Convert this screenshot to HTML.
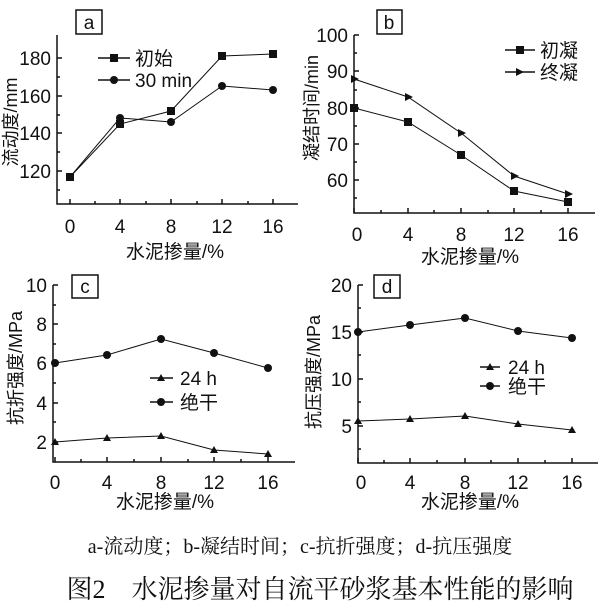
<!DOCTYPE html><html><head><meta charset="utf-8"><style>body{margin:0;background:#fff}svg{display:block}
text{font-family:"Liberation Sans","Noto Sans CJK SC",sans-serif;fill:#111}
.s{font-family:"Liberation Serif","Noto Serif CJK SC",serif}</style></head><body>
<svg width="614" height="609" viewBox="0 0 614 609" xmlns="http://www.w3.org/2000/svg" stroke="#111" fill="none">
<g stroke-width="1.5">
<path d="M57 35V204H298"/>
<path d="M70 204v-5M95 204v-3M120 204v-5M146 204v-3M171 204v-5M197 204v-3M222 204v-5M248 204v-3M273 204v-5M57 58h5M57 77h3M57 96h5M57 115h3M57 133h5M57 152h3M57 171h5M57 190h3"/>
<rect x="76" y="10" width="26" height="24"/>
<path d="M354 35V213H595"/>
<path d="M354 213v-5M381 213v-3M408 213v-5M434 213v-3M461 213v-5M488 213v-3M514 213v-5M541 213v-3M568 213v-5M354 35h5M354 53h3M354 71h5M354 90h3M354 108h5M354 126h3M354 144h5M354 162h3M354 180h5M354 198h3"/>
<rect x="377" y="10" width="25" height="24"/>
<path d="M53 285V462H295"/>
<path d="M55 462v-5M81 462v-3M107 462v-5M134 462v-3M161 462v-5M188 462v-3M214 462v-5M241 462v-3M268 462v-5M53 285h5M53 305h3M53 324h5M53 344h3M53 363h5M53 383h3M53 403h5M53 422h3M53 442h5"/>
<rect x="72" y="275" width="26" height="23"/>
<path d="M358 285V463H598"/>
<path d="M358 463v-5M384 463v-3M410 463v-5M437 463v-3M465 463v-5M491 463v-3M518 463v-5M545 463v-3M572 463v-5M358 285h5M358 308h3M358 332h5M358 355h3M358 379h5M358 402h3M358 426h5M358 449h3"/>
<rect x="374" y="275" width="26" height="23"/>
</g>
<g stroke-width="1">
<polyline points="70,177 120,124 171,111 222,56 273,54"/>
<polyline points="70,177 120,118 171,122 222,86 273,90"/>
<polyline points="354,108 408,122 461,155 514,191 568,202"/>
<polyline points="354,79 408,97 461,133 514,176 568,194"/>
<polyline points="55,363 107,355 161,339 214,353 268,368"/>
<polyline points="55,442 107,438 161,436 214,450 268,454"/>
<polyline points="358,332 410,325 465,318 518,331 572,338"/>
<polyline points="358,421 410,419 465,416 518,424 572,430"/>
<path d="M98 58h32M98 80h32M505 50h30M505 72h30M150 378h23M150 402h23M480 367h20M480 386h20" stroke-width="1.5"/>
</g>
<g fill="#111" stroke="none">
<rect x="66" y="173" width="8" height="8"/><rect x="116" y="120" width="8" height="8"/><rect x="167" y="107" width="8" height="8"/><rect x="218" y="52" width="8" height="8"/><rect x="269" y="50" width="8" height="8"/><rect x="110" y="54" width="8" height="8"/>
<rect x="350" y="104" width="8" height="8"/><rect x="404" y="118" width="8" height="8"/><rect x="457" y="151" width="8" height="8"/><rect x="510" y="187" width="8" height="8"/><rect x="564" y="198" width="8" height="8"/><rect x="516" y="46" width="8" height="8"/>
<circle cx="120" cy="118" r="4"/><circle cx="171" cy="122" r="4"/><circle cx="222" cy="86" r="4"/><circle cx="273" cy="90" r="4"/><circle cx="114" cy="80" r="4"/>
<circle cx="55" cy="363" r="4"/><circle cx="107" cy="355" r="4"/><circle cx="161" cy="339" r="4"/><circle cx="214" cy="353" r="4"/><circle cx="268" cy="368" r="4"/><circle cx="161" cy="402" r="4"/>
<circle cx="358" cy="332" r="4"/><circle cx="410" cy="325" r="4"/><circle cx="465" cy="318" r="4"/><circle cx="518" cy="331" r="4"/><circle cx="572" cy="338" r="4"/><circle cx="490" cy="386" r="4"/>
<path d="M351 75l8 4-8 4zM405 93l8 4-8 4zM458 129l8 4-8 4zM511 172l8 4-8 4zM565 190l8 4-8 4zM516 68l8 4-8 4z"/>
<path d="M55 438l4 7h-8zM107 434l4 7h-8zM161 432l4 7h-8zM214 446l4 7h-8zM268 450l4 7h-8zM161 374l4 7h-8z"/>
<path d="M358 417l4 7h-8zM410 415l4 7h-8zM465 412l4 7h-8zM518 420l4 7h-8zM572 426l4 7h-8zM490 363l4 7h-8z"/>
</g>
<g stroke="none" font-size="19">
<text x="89" y="29" text-anchor="middle">a</text><text x="389" y="29" text-anchor="middle">b</text><text x="85" y="293" text-anchor="middle">c</text><text x="387" y="293" text-anchor="middle">d</text>
<g text-anchor="end"><text x="51" y="65">180</text><text x="51" y="103">160</text><text x="51" y="140">140</text><text x="51" y="178">120</text>
<text x="348" y="42">100</text><text x="348" y="78">90</text><text x="348" y="115">80</text><text x="348" y="151">70</text><text x="348" y="187">60</text>
<text x="47" y="292">10</text><text x="47" y="331">8</text><text x="47" y="370">6</text><text x="47" y="410">4</text><text x="47" y="449">2</text>
<text x="352" y="292">20</text><text x="352" y="339">15</text><text x="352" y="386">10</text><text x="352" y="433">5</text></g>
<g text-anchor="middle"><text x="70" y="233">0</text><text x="120" y="233">4</text><text x="171" y="233">8</text><text x="222" y="233">12</text><text x="273" y="233">16</text>
<text x="357" y="241">0</text><text x="408" y="241">4</text><text x="461" y="241">8</text><text x="514" y="241">12</text><text x="568" y="241">16</text>
<text x="55" y="489">0</text><text x="107" y="489">4</text><text x="161" y="489">8</text><text x="214" y="489">12</text><text x="268" y="489">16</text>
<text x="361" y="489">0</text><text x="410" y="489">4</text><text x="465" y="489">8</text><text x="518" y="489">12</text><text x="572" y="489">16</text>
<text x="175" y="258">水泥掺量/%</text><text x="470" y="263">水泥掺量/%</text><text x="165" y="508">水泥掺量/%</text><text x="470" y="508">水泥掺量/%</text></g>
<text x="135" y="65">初始</text><text x="135" y="87">30 min</text>
<text x="540" y="57">初凝</text><text x="540" y="79">终凝</text>
<text x="180" y="385">24 h</text><text x="180" y="409">绝干</text>
<text x="508" y="374">24 h</text><text x="508" y="393">绝干</text>
<text transform="translate(17,122) rotate(-90)" text-anchor="middle" font-size="18">流动度/mm</text>
<text transform="translate(318,108) rotate(-90)" text-anchor="middle" font-size="18">凝结时间/min</text>
<text transform="translate(22,368) rotate(-90)" text-anchor="middle" font-size="18">抗折强度/MPa</text>
<text transform="translate(320,372) rotate(-90)" text-anchor="middle" font-size="18">抗压强度/MPa</text>
<text class="s" x="300" y="553" text-anchor="middle" font-size="20">a-流动度；b-凝结时间；c-抗折强度；d-抗压强度</text>
<text class="s" x="320" y="598" text-anchor="middle" font-size="26">图2　水泥掺量对自流平砂浆基本性能的影响</text>
</g>
</svg></body></html>
